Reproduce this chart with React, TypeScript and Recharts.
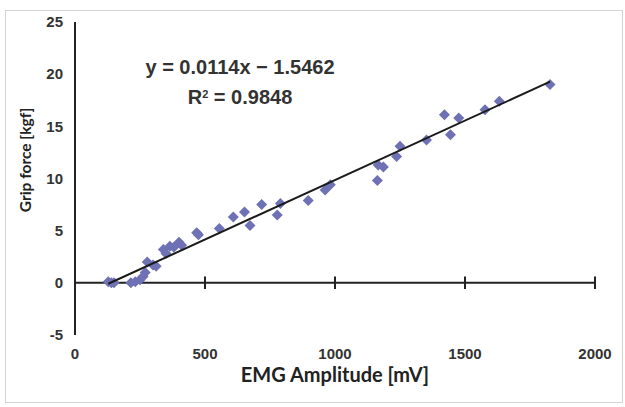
import {
  Label,
  ReferenceLine,
  Scatter,
  ScatterChart,
  XAxis,
  YAxis,
  ZAxis,
} from 'recharts'

const emgAmplitude = [
  128, 140, 150, 215, 232, 250, 262, 270, 278, 300, 312, 340, 350, 365, 380, 400, 410, 468, 475,
  555, 609, 652, 673, 718, 778, 790, 897, 962, 982, 1163, 1166, 1186, 1237, 1250, 1352, 1421,
  1444, 1476, 1577, 1632, 1827,
]
const gripForce = [
  0.1, 0.0, 0.0, 0.0, 0.1, 0.3, 0.6, 1.0, 2.0, 1.7, 1.6, 3.2, 2.8, 3.5, 3.4, 3.9, 3.6, 4.8, 4.6,
  5.2, 6.3, 6.8, 5.5, 7.5, 6.5, 7.6, 7.9, 8.9, 9.4, 9.8, 11.3, 11.1, 12.1, 13.1, 13.7, 16.1,
  14.2, 15.8, 16.6, 17.4, 19.0,
]

// fitted line endpoints (y = 0.0114x - 1.5462)
const trendX = [128, 1827]
const trendY = [-0.09, 19.28]

const xTicks = [0, 500, 1000, 1500, 2000]
const yTicks = [-5, 0, 5, 10, 15, 20, 25]
const tickHalf = 0.6

const points = emgAmplitude.map((x, i) => ({ x, y: gripForce[i] }))
const trend = trendX.map((x, i) => ({ x, y: trendY[i] }))

const font = '"Liberation Sans", Arial, sans-serif'
const titleFont = 'Lato, "Open Sans", sans-serif'
const tickStyle = { fill: '#333', fontSize: 15, fontWeight: 700, fontFamily: font }

const Diamond = (props: any) => {
  const { cx, cy } = props
  const r = 5.5
  return (
    <polygon
      points={`${cx},${cy - r} ${cx + r},${cy} ${cx},${cy + r} ${cx - r},${cy}`}
      fill="#6f71b5"
    />
  )
}

export default function App() {
  return (
    <div style={{ position: 'absolute', left: 0, top: 0, width: 625, height: 407, background: '#fff' }}>
      <div
        style={{
          position: 'absolute',
          left: 5,
          top: 10,
          width: 616,
          height: 391,
          border: '1px solid #d4d4d4',
        }}
      />
      <ScatterChart width={625} height={407} margin={{ top: 22, right: 30, bottom: 0, left: 0 }}>
        <XAxis
          type="number"
          dataKey="x"
          domain={[0, 2000]}
          ticks={xTicks}
          axisLine={false}
          tickLine={false}
          tickSize={0}
          tickMargin={13}
          height={72}
          tick={tickStyle}
        >
          <Label
            value="EMG Amplitude [mV]"
            position="insideTop"
            offset={33}
            style={{ fill: '#222', fontSize: 20, fontWeight: 700, fontFamily: titleFont }}
          />
        </XAxis>
        <YAxis
          type="number"
          dataKey="y"
          domain={[-5, 25]}
          ticks={yTicks}
          axisLine={{ stroke: '#222', strokeWidth: 2 }}
          tickLine={false}
          tickSize={0}
          tickMargin={12}
          width={75}
          tick={tickStyle}
        />
        <ZAxis range={[60, 60]} />
        <ReferenceLine y={0} stroke="#222" strokeWidth={2} />
        {xTicks.slice(1).map((t) => (
          <ReferenceLine
            key={t}
            segment={[
              { x: t, y: -tickHalf },
              { x: t, y: tickHalf },
            ]}
            stroke="#222"
            strokeWidth={2}
          />
        ))}
        <Scatter data={points} shape={Diamond} isAnimationActive={false} />
        <Scatter
          data={trend}
          line={{ stroke: '#1a1a1a', strokeWidth: 2 }}
          shape={() => <g />}
          isAnimationActive={false}
        />
      </ScatterChart>
      <div
        style={{
          position: 'absolute',
          left: 25,
          top: 160,
          transform: 'translate(-50%, -50%) rotate(-90deg)',
          whiteSpace: 'nowrap',
          fontFamily: titleFont,
          fontWeight: 700,
          fontSize: 15.5,
          color: '#222',
        }}
      >
        Grip force [kgf]
      </div>
      <div
        style={{
          position: 'absolute',
          left: 130,
          top: 52,
          width: 220,
          textAlign: 'center',
          fontFamily: font,
          fontWeight: 700,
          fontSize: 20,
          color: '#333',
          lineHeight: '30px',
        }}
      >
        <div>y = 0.0114x − 1.5462</div>
        <div>
          R<sup style={{ fontSize: 11, verticalAlign: 'top', lineHeight: '24px' }}>2</sup> = 0.9848
        </div>
      </div>
    </div>
  )
}
